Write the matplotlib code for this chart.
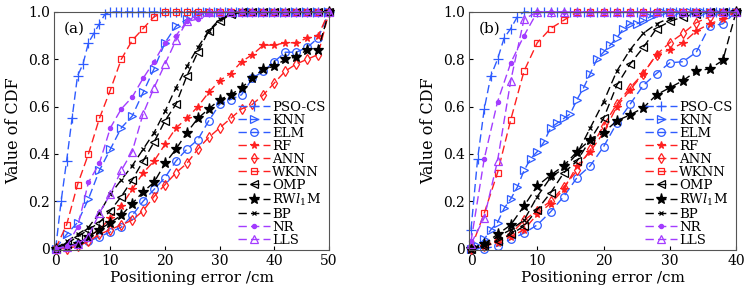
import matplotlib
matplotlib.use("Agg")
import matplotlib.pyplot as plt

plt.rcParams['font.family'] = ['DejaVu Serif']
plt.rcParams['mathtext.fontset'] = 'dejavuserif'

# ---- panel (a) data ----
x_a1 = [0, 1, 2, 3, 4, 5, 6, 7, 8, 9, 10, 11, 12, 13, 14, 15, 16, 17, 18, 19, 20,
        21, 22, 23, 24, 25, 26, 27, 28, 29, 30, 31, 32, 33, 34, 35, 36, 37, 38, 39, 40,
        41, 42, 43, 44, 45, 46, 47, 48, 49, 50]
x_a2 = [0, 2, 4, 6, 8, 10, 12, 14, 16, 18, 20, 22, 24, 26, 28, 30, 32, 34, 36, 38, 40,
        42, 44, 46, 48, 50]

pso_a = [0, 0.20, 0.37, 0.55, 0.73, 0.78, 0.87, 0.91, 0.95, 0.99, 1, 1, 1, 1, 1, 1, 1,
         1, 1, 1, 1, 1, 1, 1, 1, 1, 1, 1, 1, 1, 1, 1, 1, 1, 1, 1, 1, 1, 1, 1, 1, 1, 1, 1,
         1, 1, 1, 1, 1, 1, 1]
knn_a = [0, 0.06, 0.11, 0.21, 0.33, 0.42, 0.51, 0.56, 0.66, 0.76, 0.87, 0.94, 0.97, 0.99,
         1, 1, 1, 1, 1, 1, 1, 1, 1, 1, 1, 1]
elm_a = [0, 0.01, 0.02, 0.03, 0.05, 0.07, 0.09, 0.14, 0.20, 0.25, 0.30, 0.37, 0.42, 0.46,
         0.54, 0.61, 0.63, 0.65, 0.72, 0.75, 0.79, 0.83, 0.83, 0.85, 0.89, 1]
rf_a = [0, 0.005, 0.02, 0.05, 0.08, 0.13, 0.18, 0.25, 0.32, 0.37, 0.44, 0.51, 0.55, 0.60,
        0.66, 0.71, 0.74, 0.79, 0.82, 0.86, 0.86, 0.87, 0.87, 0.89, 0.90, 1]
ann_a = [0, 0, 0.01, 0.03, 0.06, 0.08, 0.10, 0.12, 0.16, 0.22, 0.27, 0.32, 0.36, 0.42,
         0.47, 0.51, 0.55, 0.59, 0.61, 0.65, 0.70, 0.75, 0.78, 0.80, 0.82, 1]
wknn_a = [0, 0.10, 0.27, 0.40, 0.55, 0.67, 0.80, 0.88, 0.93, 0.98, 1, 1, 1, 1, 1, 1, 1, 1,
          1, 1, 1, 1, 1, 1, 1, 1]
omp_a = [0, 0.02, 0.05, 0.08, 0.11, 0.16, 0.22, 0.29, 0.37, 0.45, 0.54, 0.61, 0.73, 0.83,
         0.92, 0.96, 0.99, 1, 1, 1, 1, 1, 1, 1, 1, 1]
rwl_a = [0, 0.01, 0.02, 0.05, 0.08, 0.11, 0.14, 0.19, 0.24, 0.28, 0.36, 0.42, 0.49, 0.55,
         0.59, 0.63, 0.65, 0.68, 0.72, 0.76, 0.77, 0.80, 0.81, 0.84, 0.84, 1]
bp_a = [0, 0.03, 0.06, 0.09, 0.15, 0.23, 0.29, 0.35, 0.42, 0.49, 0.58, 0.68, 0.77, 0.85,
        0.92, 0.97, 0.99, 1, 1, 1, 1, 1, 1, 1, 1, 1]
nr_a = [0, 0.01, 0.09, 0.28, 0.36, 0.51, 0.59, 0.64, 0.72, 0.79, 0.87, 0.90, 0.96, 0.97,
        0.99, 1, 1, 1, 1, 1, 1, 1, 1, 1, 1, 1]
lls_a = [0, 0.005, 0.02, 0.05, 0.15, 0.23, 0.33, 0.41, 0.57, 0.68, 0.78, 0.88, 0.96, 0.99,
         1, 1, 1, 1, 1, 1, 1, 1, 1, 1, 1, 1]

# ---- panel (b) data ----
x_b1 = [0, 1, 2, 3, 4, 5, 6, 7, 8, 9, 10, 11, 12, 13, 14, 15, 16, 17, 18, 19, 20,
        21, 22, 23, 24, 25, 26, 27, 28, 29, 30, 31, 32, 33, 34, 35, 36, 37, 38, 39, 40]
x_b2 = [0, 2, 4, 6, 8, 10, 12, 14, 16, 18, 20, 22, 24, 26, 28, 30, 32, 34, 36, 38, 40]

pso_b = [0.08, 0.38, 0.59, 0.73, 0.80, 0.89, 0.93, 0.98, 1, 1, 1, 1, 1, 1, 1, 1, 1, 1, 1,
         1, 1, 1, 1, 1, 1, 1, 1, 1, 1, 1, 1, 1, 1, 1, 1, 1, 1, 1, 1, 1, 1]
knn_b = [0, 0.01, 0.04, 0.08, 0.11, 0.17, 0.21, 0.26, 0.33, 0.38, 0.41, 0.45, 0.51, 0.53,
         0.55, 0.57, 0.63, 0.68, 0.74, 0.80, 0.83, 0.86, 0.89, 0.93, 0.95, 0.95, 0.96, 0.98,
         0.99, 1, 1, 1, 1, 1, 1, 1, 1, 1, 1, 1, 1]
elm_b = [0, 0, 0.01, 0.04, 0.065, 0.10, 0.155, 0.22, 0.30, 0.35, 0.43, 0.53, 0.61, 0.69,
         0.74, 0.785, 0.79, 0.83, 0.94, 0.95, 1]
rf_b = [0, 0.01, 0.025, 0.05, 0.08, 0.145, 0.19, 0.25, 0.35, 0.41, 0.49, 0.60, 0.67, 0.74,
        0.82, 0.84, 0.87, 0.92, 0.95, 0.97, 1]
ann_b = [0, 0.01, 0.04, 0.06, 0.12, 0.16, 0.20, 0.26, 0.33, 0.42, 0.52, 0.61, 0.68, 0.74,
         0.82, 0.87, 0.91, 0.955, 0.98, 0.99, 1]
wknn_b = [0, 0.15, 0.32, 0.545, 0.75, 0.87, 0.93, 0.965, 1, 1, 1, 1, 1, 1, 1, 1, 1, 1, 1,
          1, 1]
omp_b = [0, 0.01, 0.03, 0.06, 0.095, 0.165, 0.235, 0.32, 0.37, 0.46, 0.55, 0.69, 0.78,
         0.85, 0.93, 0.96, 0.98, 0.99, 1, 1, 1]
rwl_b = [0, 0.02, 0.06, 0.10, 0.18, 0.265, 0.31, 0.35, 0.41, 0.46, 0.49, 0.54, 0.565,
         0.595, 0.65, 0.68, 0.71, 0.75, 0.76, 0.795, 1]
bp_b = [0, 0.02, 0.05, 0.08, 0.12, 0.22, 0.30, 0.34, 0.40, 0.51, 0.62, 0.75, 0.84, 0.91,
        0.95, 0.975, 0.99, 1, 1, 1, 1]
nr_b = [0.03, 0.38, 0.62, 0.785, 0.90, 1, 1, 1, 1, 1, 1, 1, 1, 1, 1, 1, 1, 1, 1, 1, 1]
lls_b = [0.02, 0.13, 0.37, 0.71, 0.97, 1, 1, 1, 1, 1, 1, 1, 1, 1, 1, 1, 1, 1, 1, 1, 1]

labels = ['PSO-CS', 'KNN', 'ELM', 'RF', 'ANN', 'WKNN', 'OMP', r'RW$l_1$M', 'BP', 'NR', 'LLS']

blue = '#2f5cff'
red = '#ff2020'
purple = '#a33cff'
black = 'k'

# marker, colour, size, filled
styles = [('+', blue, 7, False),
          ('>', blue, 6, False),
          ('o', blue, 5.5, False),
          ('*', red, 5.5, True),
          ('d', red, 5.5, False),
          ('s', red, 5, False),
          ('<', black, 6, False),
          ('*', black, 8, True),
          ('x', black, 3.5, False),
          ('.', purple, 6, True),
          ('^', purple, 6, False)]


def draw_panel(ax, xs, ys, xmax, xticks, tag):
    for x, y, lab, (m, c, s, filled) in zip(xs, ys, labels, styles):
        ax.plot(x, y, linestyle=(0, (6, 3)), color=c, lw=1.0, marker=m, ms=s,
                mfc=c if filled else 'none', mec=c, mew=0.9, label=lab, clip_on=False)
    ax.set_xlim(-0.3, xmax)
    ax.set_ylim(-0.006, 1.0)
    ax.set_xticks(xticks)
    ax.set_yticks([0, 0.2, 0.4, 0.6, 0.8, 1.0])
    ax.set_yticklabels(['0', '0.2', '0.4', '0.6', '0.8', '1.0'])
    ax.tick_params(direction='in', length=3, labelsize=10, pad=3)
    ax.set_xlabel('Positioning error /cm', fontsize=11, labelpad=2)
    ax.set_ylabel('Value of CDF', fontsize=11.5, labelpad=4)
    ax.text(0.035, 0.96, tag, transform=ax.transAxes, fontsize=11, va='top', ha='left')
    for sp in ax.spines.values():
        sp.set_color('#555555')
        sp.set_linewidth(0.8)
    ax.legend(loc='lower right', frameon=False, fontsize=9.5, handlelength=2.4,
              handletextpad=0.2, labelspacing=0.0, borderaxespad=0.1, borderpad=0.15)


fig = plt.figure(figsize=(7.44, 2.94), dpi=100)
ax1 = fig.add_axes([0.0726, 0.1497, 0.3696, 0.8095])
ax2 = fig.add_axes([0.6304, 0.1497, 0.3589, 0.8095])

draw_panel(ax1, [x_a1] + [x_a2] * 10,
           [pso_a, knn_a, elm_a, rf_a, ann_a, wknn_a, omp_a, rwl_a, bp_a, nr_a, lls_a],
           50, [0, 10, 20, 30, 40, 50], '(a)')
draw_panel(ax2, [x_b1, x_b1] + [x_b2] * 9,
           [pso_b, knn_b, elm_b, rf_b, ann_b, wknn_b, omp_b, rwl_b, bp_b, nr_b, lls_b],
           40, [0, 10, 20, 30, 40], '(b)')

fig.savefig('out.png', dpi=100)
